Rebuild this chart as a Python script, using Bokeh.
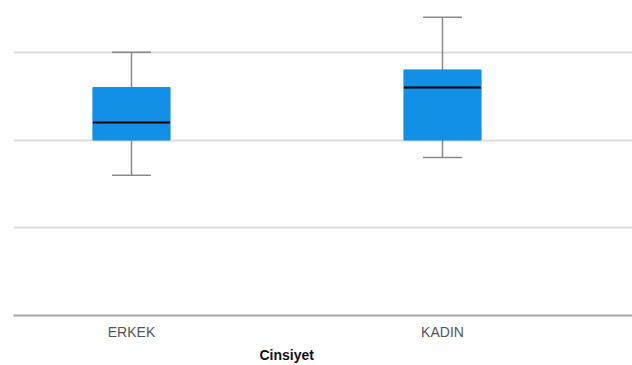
from bokeh.plotting import figure
from bokeh.models import ColumnDataSource, FixedTicker, Range1d, Title
from bokeh.embed import file_html
from bokeh.resources import INLINE

# Data
categories = ["ERKEK", "KADIN"]
lower = [1.6, 1.8]
q1 = [2.0, 2.0]
median = [2.2, 2.6]
q3 = [2.6, 2.8]
upper = [3.0, 3.4]
grid_values = [1, 2, 3]

pos = list(range(len(categories)))
box_w = 0.248
cap_w = 0.125

src = ColumnDataSource(dict(
    x=pos, lower=lower, q1=q1, median=median, q3=q3, upper=upper,
    bl=[p - box_w / 2 for p in pos], br=[p + box_w / 2 for p in pos],
    cl=[p - cap_w / 2 for p in pos], cr=[p + cap_w / 2 for p in pos],
))

p = figure(width=632, height=365, output_backend="svg", toolbar_location=None,
           x_range=Range1d(-0.3794, 1.6109), y_range=Range1d(0, 3.591),
           min_border_left=13, min_border_right=0, min_border_top=0, min_border_bottom=0)
p.outline_line_color = None
p.background_fill_color = "white"
p.border_fill_color = "white"

# grid
p.xgrid.visible = False
p.ygrid.ticker = FixedTicker(ticks=grid_values)
p.ygrid.grid_line_color = "#dcdcdc"
p.ygrid.grid_line_width = 2
p.yaxis.visible = False

# whiskers
wk = dict(line_color="#8a8a8a", line_width=1.5)
p.segment(x0="x", y0="q3", x1="x", y1="upper", source=src, **wk)
p.segment(x0="x", y0="q1", x1="x", y1="lower", source=src, **wk)
p.segment(x0="cl", y0="upper", x1="cr", y1="upper", source=src, **wk)
p.segment(x0="cl", y0="lower", x1="cr", y1="lower", source=src, **wk)

# boxes
p.vbar(x="x", width=box_w, bottom="q1", top="q3", source=src,
       fill_color="#1190E6", line_color="#1190E6", line_width=1)
# median
p.segment(x0="bl", y0="median", x1="br", y1="median", source=src,
          line_color="#000000", line_width=2)

# x axis
xa = p.xaxis[0]
xa.ticker = FixedTicker(ticks=pos)
xa.major_label_overrides = {i: c for i, c in enumerate(categories)}
xa.major_tick_line_color = None
xa.minor_tick_line_color = None
xa.major_tick_out = 0
xa.major_tick_in = 0
xa.axis_line_color = "#a6a6a6"
xa.axis_line_width = 2
xa.major_label_text_font = "Liberation Sans"
xa.major_label_text_font_size = "14px"
xa.major_label_text_color = "#555555"
xa.major_label_standoff = 8

p.add_layout(Title(text="Cinsiyet", align="left", offset=246,
                   text_font="Liberation Sans", text_font_size="14px",
                   text_font_style="bold", text_color="#111111",
                   standoff=5), "below")

open("out.html", "w").write(file_html(p, INLINE))
